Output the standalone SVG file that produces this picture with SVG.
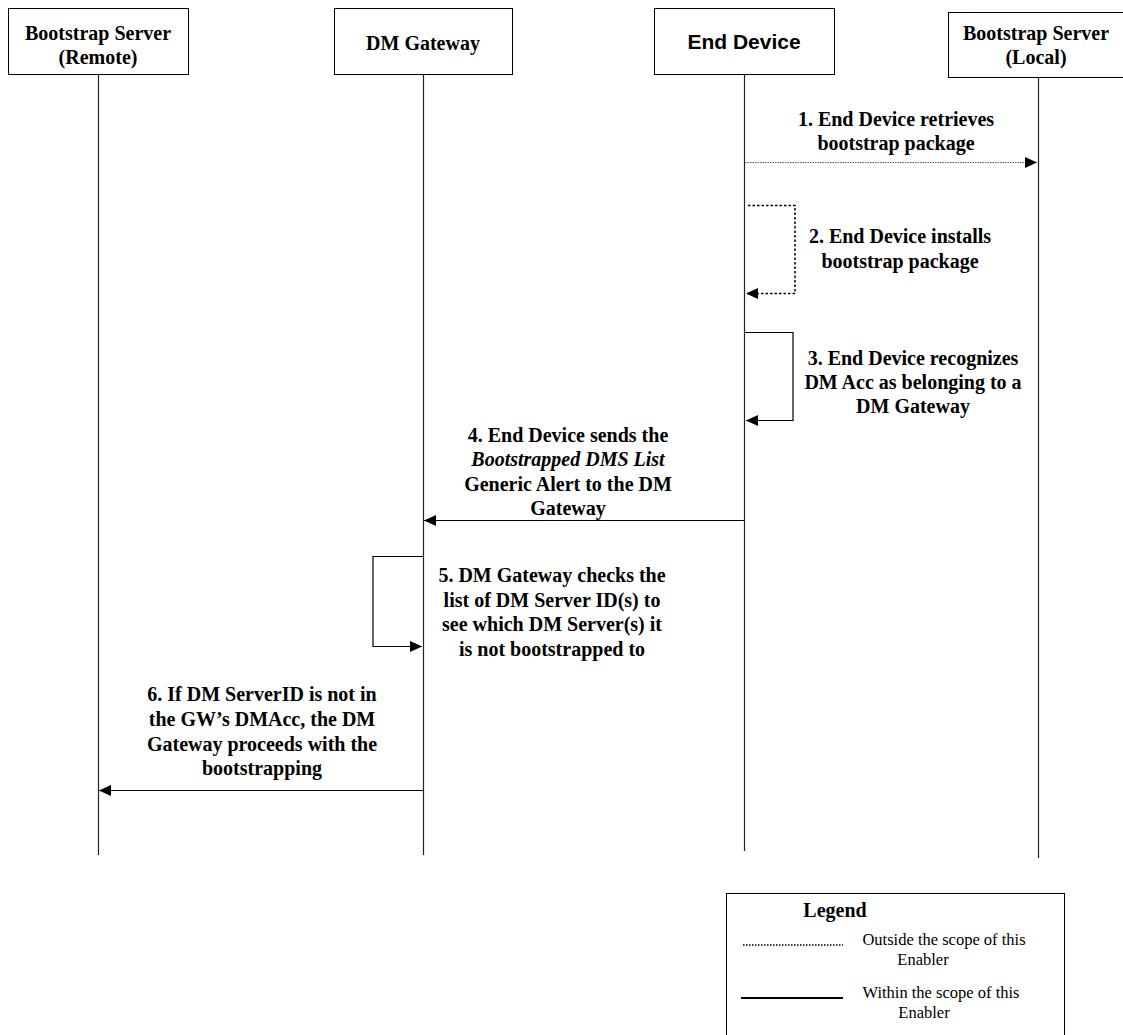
<svg xmlns="http://www.w3.org/2000/svg" width="1123" height="1035" viewBox="0 0 1123 1035">
<style>
.box{fill:#fff;stroke:#000;stroke-width:1}
.life{stroke:#222;stroke-width:1.2;fill:none}
.t{font-family:"Liberation Serif","Times New Roman",serif;font-weight:bold;font-size:20px;fill:#000;text-anchor:middle}
.s{font-family:"Liberation Sans",Arial,sans-serif;font-weight:bold;font-size:21px;fill:#000;text-anchor:middle}
.r{font-family:"Liberation Serif","Times New Roman",serif;font-size:16.5px;fill:#000;text-anchor:middle}
.solid{stroke:#000;stroke-width:1.2;fill:none}
.dotg{stroke:#555;stroke-width:1.2;stroke-dasharray:1.5 1;fill:none}
.dash{stroke:#000;stroke-width:1.5;stroke-dasharray:2.5 2;fill:none}
</style>
<defs>
<marker id="ah" markerWidth="12" markerHeight="11" refX="12" refY="5.5" orient="auto" markerUnits="userSpaceOnUse">
<path d="M0,0 L12,5.5 L0,11 Z" fill="#000"/>
</marker>
</defs>
<rect width="1123" height="1035" fill="#fff"/>
<g id="node-remote">
<rect class="box" x="8.5" y="8.5" width="180" height="66"/>
<text class="t" x="98" y="40">Bootstrap Server</text>
<text class="t" x="98" y="64">(Remote)</text>
<line class="life" x1="98.5" y1="74.5" x2="98.5" y2="855"/>
</g>
<g id="node-gateway">
<rect class="box" x="334.5" y="8.5" width="178" height="66"/>
<text class="t" x="423" y="50">DM Gateway</text>
<line class="life" x1="423.5" y1="74.5" x2="423.5" y2="855"/>
</g>
<g id="node-enddevice">
<rect class="box" x="654.5" y="8.5" width="180" height="66"/>
<text class="s" x="744" y="49">End Device</text>
<line class="life" x1="744.5" y1="74.5" x2="744.5" y2="851"/>
</g>
<g id="node-local">
<rect class="box" x="948.5" y="12.5" width="190" height="65"/>
<text class="t" x="1036" y="40">Bootstrap Server</text>
<text class="t" x="1036" y="64">(Local)</text>
<line class="life" x1="1038.5" y1="77.5" x2="1038.5" y2="858"/>
</g>
<g id="connectors">
<line class="dotg" x1="745" y1="162.5" x2="1037" y2="162.5" marker-end="url(#ah)"/>
<polyline class="dash" points="748,205.5 795,205.5 795,293.5 746,293.5" marker-end="url(#ah)"/>
<polyline class="solid" points="745,332.5 793,332.5 793,420.5 746,420.5" marker-end="url(#ah)"/>
<line class="solid" x1="744" y1="520.5" x2="424" y2="520.5" marker-end="url(#ah)"/>
<polyline class="solid" points="423,556.5 373,556.5 373,646.5 422,646.5" marker-end="url(#ah)"/>
<line class="solid" x1="423" y1="790.5" x2="99" y2="790.5" marker-end="url(#ah)"/>
</g>
<g id="labels">
<text class="t" x="896" y="126">1. End Device retrieves</text>
<text class="t" x="896" y="150">bootstrap package</text>
<text class="t" x="900" y="243">2. End Device installs</text>
<text class="t" x="900" y="268">bootstrap package</text>
<text class="t" x="913" y="365">3. End Device recognizes</text>
<text class="t" x="913" y="389">DM Acc as belonging to a</text>
<text class="t" x="913" y="413">DM Gateway</text>
<text class="t" x="568" y="442">4. End Device sends the</text>
<text class="t" x="568" y="466" font-style="italic">Bootstrapped DMS List</text>
<text class="t" x="568" y="491">Generic Alert to the DM</text>
<text class="t" x="568" y="515">Gateway</text>
<text class="t" x="552" y="582">5. DM Gateway checks the</text>
<text class="t" x="552" y="607">list of DM Server ID(s) to</text>
<text class="t" x="552" y="631">see which DM Server(s) it</text>
<text class="t" x="552" y="656">is not bootstrapped to</text>
<text class="t" x="262" y="701">6. If DM ServerID is not in</text>
<text class="t" x="262" y="726">the GW’s DMAcc, the DM</text>
<text class="t" x="262" y="751">Gateway proceeds with the</text>
<text class="t" x="262" y="775">bootstrapping</text>
</g>
<g id="legend">
<rect class="box" x="726.5" y="893.5" width="338" height="160"/>
<text class="t" x="835" y="917">Legend</text>
<line x1="743" y1="945" x2="843" y2="945" stroke="#000" stroke-width="1.5" stroke-dasharray="1.5 1.5"/>
<text class="r" x="944" y="945">Outside the scope of this</text>
<text class="r" x="923" y="965">Enabler</text>
<line x1="741" y1="998" x2="843" y2="998" stroke="#000" stroke-width="2"/>
<text class="r" x="941" y="998">Within the scope of this</text>
<text class="r" x="924" y="1018">Enabler</text>
</g>
</svg>
